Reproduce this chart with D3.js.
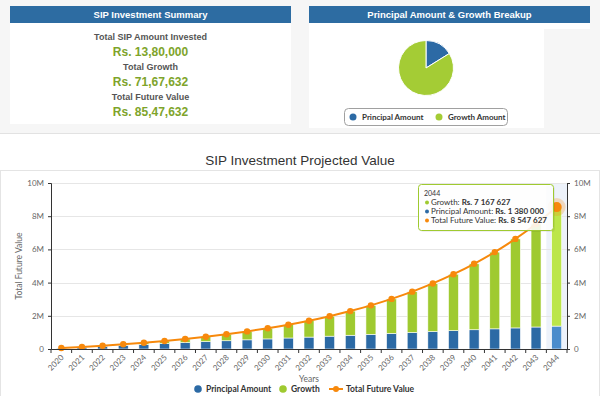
<!DOCTYPE html>
<html><head><meta charset="utf-8">
<script src="https://cdn.jsdelivr.net/npm/d3@7"></script>
<style>
html,body{margin:0;padding:0;background:#fff;}
svg{display:block;}
</style></head>
<body>
<svg id="c" width="600" height="396"></svg>
<script>
const years = ["2020","2021","2022","2023","2024","2025","2026","2027","2028","2029","2030","2031","2032","2033","2034","2035","2036","2037","2038","2039","2040","2041","2042","2043","2044"];
const principal = [55200,110400,165600,220800,276000,331200,386400,441600,496800,552000,607200,662400,717600,772800,828000,883200,938400,993600,1048800,1104000,1159200,1214400,1269600,1324800,1380000];
const growth = [3800,14600,34400,63200,103000,154800,218600,297400,393200,507000,642800,801600,988400,1205200,1456000,1745800,2079600,2462400,2901200,3402000,3972800,4623600,5363400,6204200,7167627];
const totalValue = [59000,125000,200000,284000,379000,486000,605000,739000,890000,1059000,1250000,1464000,1706000,1978000,2284000,2629000,3018000,3456000,3950000,4506000,5132000,5838000,6633000,7529000,8547627];
const yTicks = [0,2000000,4000000,6000000,8000000,10000000];
const pieLabels = ["Principal Amount","Growth Amount"];
const pieValues = [1380000,7167627];
const summaryLabels = ["Total SIP Amount Invested","Total Growth","Total Future Value"];
const summaryValues = ["Rs. 13,80,000","Rs. 71,67,632","Rs. 85,47,632"];
const seriesNames = ["Principal Amount","Growth","Total Future Value"];
const hoverIndex = 24;

const BLUE="#2c6aa5", GREEN="#9fca30", ORANGE="#f7890c";
const BLUE_H="#4a8ccc", GREEN_H="#bce64a";
const svg = d3.select("#c");

// ---------- top section ----------
svg.append("rect").attr("x",0).attr("y",0).attr("width",600).attr("height",133).attr("fill","#f6f6f6");
svg.append("line").attr("x1",0).attr("x2",600).attr("y1",133.5).attr("y2",133.5).attr("stroke","#e2e2e2");

// left panel
svg.append("rect").attr("x",10).attr("y",23).attr("width",281).attr("height",101).attr("fill","#fff");
svg.append("rect").attr("x",10).attr("y",6).attr("width",281).attr("height",17).attr("fill","#2d6ca2");
svg.append("text").attr("x",150.5).attr("y",18).attr("text-anchor","middle")
  .attr("font-family","Liberation Sans, Arial").attr("font-weight","bold").attr("font-size",9.5)
  .attr("fill","#fff").text("SIP Investment Summary");
const labY=[40,70,100], valY=[56,86,116];
summaryLabels.forEach((l,i)=>{
  svg.append("text").attr("x",150.5).attr("y",labY[i]).attr("text-anchor","middle")
    .attr("font-family","Liberation Sans, Arial").attr("font-weight","bold").attr("font-size",9)
    .attr("fill","#555").text(l);
  svg.append("text").attr("x",150.5).attr("y",valY[i]).attr("text-anchor","middle")
    .attr("font-family","Liberation Sans, Arial").attr("font-weight","bold").attr("font-size",12)
    .attr("fill","#7ea42b").text(summaryValues[i]);
});

// right panel
svg.append("rect").attr("x",309).attr("y",23).attr("width",281).attr("height",6).attr("fill","#fff");
svg.append("rect").attr("x",309).attr("y",23).attr("width",235).attr("height",105).attr("fill","#fff");
svg.append("rect").attr("x",309).attr("y",6).attr("width",281).attr("height",17).attr("fill","#2d6ca2");
svg.append("text").attr("x",449.5).attr("y",18).attr("text-anchor","middle")
  .attr("font-family","Liberation Sans, Arial").attr("font-weight","bold").attr("font-size",9.5)
  .attr("fill","#fff").text("Principal Amount & Growth Breakup");

const pie = d3.pie().sort(null).value(d=>d)(pieValues);
const arc = d3.arc().innerRadius(0).outerRadius(27.5);
const pg = svg.append("g").attr("transform","translate(426,68)");
pg.selectAll("path").data(pie).join("path").attr("d",arc)
  .attr("fill",(d,i)=>[BLUE,"#a4cc35"][i]).attr("stroke","#fff").attr("stroke-width",1);

svg.append("rect").attr("x",344.5).attr("y",108.5).attr("width",163).attr("height",17).attr("rx",4)
  .attr("fill","#fff").attr("stroke","#a0a0a0");
const plx=[353,439];
pieLabels.forEach((l,i)=>{
  svg.append("circle").attr("cx",plx[i]).attr("cy",117).attr("r",3.5).attr("fill",[BLUE,"#a4cc35"][i]);
  svg.append("text").attr("x",plx[i]+9).attr("y",120).attr("font-family","Lato").attr("font-weight","bold")
    .attr("font-size",8).attr("fill","#333").text(l);
});

// ---------- main chart ----------
svg.append("rect").attr("x",0.5).attr("y",170.5).attr("width",599).attr("height",240)
  .attr("fill","none").attr("stroke","#e4e4e4");
svg.append("text").attr("x",300).attr("y",165).attr("text-anchor","middle")
  .attr("font-family","Liberation Sans, Arial").attr("font-size",13.5).attr("fill","#333")
  .text("SIP Investment Projected Value");

const L=51, R=567, T=183, B=349;
const x = d3.scaleBand().domain(years).range([L,R]).padding(0);
const y = d3.scaleLinear().domain([0,10000000]).range([B,T]);
const bw = 10;
const fmt = d=> d===0 ? "0" : (d/1e6)+"M";

// hover band
svg.append("rect").attr("x",x(years[hoverIndex])).attr("y",T).attr("width",x.bandwidth()).attr("height",B-T)
  .attr("fill","#edf2fa");

// grid
svg.append("g").selectAll("line").data(yTicks.filter(d=>d>0)).join("line")
  .attr("x1",L).attr("x2",R).attr("y1",d=>Math.round(y(d))+0.5).attr("y2",d=>Math.round(y(d))+0.5)
  .attr("stroke","#e6e6e6");

// stacked bars
const stackData = years.map((yr,i)=>({year:yr, p:principal[i], g:growth[i]}));
const stack = d3.stack().keys(["p","g"])(stackData);
const colors = {p:[BLUE,BLUE_H], g:[GREEN,GREEN_H]};
stack.forEach(s=>{
  svg.append("g").selectAll("rect").data(s).join("rect")
    .attr("x",d=>x(d.data.year)+x.bandwidth()/2-bw/2)
    .attr("y",d=>y(d[1]))
    .attr("width",bw)
    .attr("height",d=>Math.max(0,y(d[0])-y(d[1])))
    .attr("fill",(d,i)=> i===hoverIndex ? colors[s.key][1] : colors[s.key][0])
    .attr("stroke","#fff").attr("stroke-width",0.6);
});

// line
const line = d3.line().x((d,i)=>x(years[i])+x.bandwidth()/2).y(d=>y(d)).curve(d3.curveMonotoneX);
svg.append("path").datum(totalValue).attr("d",line).attr("fill","none").attr("stroke",ORANGE).attr("stroke-width",2);
svg.append("g").selectAll("circle").data(totalValue).join("circle")
  .attr("cx",(d,i)=>x(years[i])+x.bandwidth()/2).attr("cy",d=>y(d)).attr("r",3.2).attr("fill",ORANGE);
const hx = x(years[hoverIndex])+x.bandwidth()/2, hy=y(totalValue[hoverIndex]);
svg.append("circle").attr("cx",hx).attr("cy",hy).attr("r",9).attr("fill",ORANGE).attr("opacity",0.25);
svg.append("circle").attr("cx",hx).attr("cy",hy).attr("r",5).attr("fill",ORANGE);

// axes
const axText = g=>g.selectAll("text").attr("font-family","Lato").attr("font-size",8).attr("fill","#666");
const la = svg.append("g").attr("transform",`translate(${L},0)`)
  .call(d3.axisLeft(y).tickValues(yTicks).tickFormat(fmt).tickSize(3).tickPadding(4));
la.select(".domain").attr("stroke","#333"); la.selectAll(".tick line").attr("stroke","#333"); axText(la);
const ra = svg.append("g").attr("transform",`translate(${R},0)`)
  .call(d3.axisRight(y).tickValues(yTicks).tickFormat(fmt).tickSize(3).tickPadding(4));
ra.select(".domain").attr("stroke","#333"); ra.selectAll(".tick line").attr("stroke","#333"); axText(ra);

const xa = svg.append("g").attr("transform",`translate(0,${B})`)
  .call(d3.axisBottom(x).tickSize(0).tickPadding(0));
xa.select(".domain").attr("stroke","#333");
xa.selectAll(".tick text").attr("text-anchor","end").attr("dy",null)
  .attr("transform","translate(3,9) rotate(-45)").attr("font-family","Lato").attr("font-size",8).attr("fill","#666");
// boundary ticks
svg.append("g").selectAll("line").data(years.concat(["_end"])).join("line")
  .attr("x1",(d,i)=>L+i*x.step()).attr("x2",(d,i)=>L+i*x.step())
  .attr("y1",B).attr("y2",B+4).attr("stroke","#333");

svg.append("text").attr("x",(L+R)/2).attr("y",382).attr("text-anchor","middle")
  .attr("font-family","Lato").attr("font-size",8.5).attr("fill","#666").text("Years");
svg.append("text").attr("transform","translate(22,266) rotate(-90)").attr("text-anchor","middle")
  .attr("font-family","Lato").attr("font-size",8.5).attr("fill","#666").text("Total Future Value");

// legend
const lgx=[198,283,336];
seriesNames.forEach((n,i)=>{
  if(i<2){
    svg.append("circle").attr("cx",lgx[i]).attr("cy",389).attr("r",3.8).attr("fill",[BLUE,GREEN][i]);
  } else {
    svg.append("line").attr("x1",lgx[i]-7).attr("x2",lgx[i]+7).attr("y1",389).attr("y2",389).attr("stroke",ORANGE).attr("stroke-width",2);
    svg.append("circle").attr("cx",lgx[i]).attr("cy",389).attr("r",3).attr("fill",ORANGE);
  }
  svg.append("text").attr("x",lgx[i]+(i<2?8:10)).attr("y",392).attr("font-family","Lato").attr("font-weight","bold")
    .attr("font-size",8.5).attr("fill","#333").text(n);
});

// tooltip
const tg = svg.append("g");
tg.append("rect").attr("x",420).attr("y",186).attr("width",135).attr("height",46).attr("rx",3)
  .attr("fill","#000").attr("opacity",0.06);
tg.append("rect").attr("x",418.5).attr("y",184.5).attr("width",135).attr("height",46).attr("rx",3)
  .attr("fill","#fff").attr("fill-opacity",0.88).attr("stroke",GREEN).attr("stroke-width",1);
tg.append("text").attr("x",424).attr("y",196).attr("font-family","Lato").attr("font-size",7).attr("fill","#333").text(years[hoverIndex]);
const fmtSp = v=> "Rs. " + d3.format(",")(v).replace(/,/g," ");
const tipRows = [["Growth",growth[hoverIndex],GREEN],["Principal Amount",principal[hoverIndex],BLUE],["Total Future Value",totalValue[hoverIndex],ORANGE]];
tipRows.forEach((r,i)=>{
  const ty=205+i*9;
  tg.append("circle").attr("cx",427).attr("cy",ty-2.5).attr("r",2).attr("fill",r[2]);
  const t = tg.append("text").attr("x",431).attr("y",ty).attr("font-family","Lato").attr("font-size",8).attr("fill","#333");
  t.append("tspan").text(r[0]+": ");
  t.append("tspan").attr("font-weight","bold").text(fmtSp(r[1]));
});
</script>
</body></html>
